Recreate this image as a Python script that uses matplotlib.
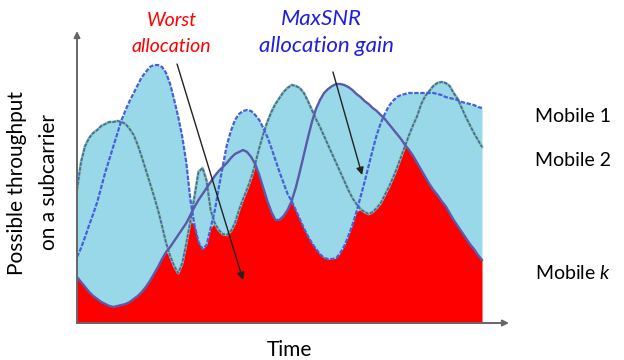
import numpy as np
import matplotlib
matplotlib.use("Agg")
import matplotlib.pyplot as plt

plt.rcParams['font.family'] = ['Lato', 'DejaVu Sans']
plt.rcParams['mathtext.fontset'] = 'custom'
plt.rcParams['mathtext.it'] = 'Lato:italic'
plt.rcParams['mathtext.rm'] = 'Lato'

# time axis (arbitrary units) and possible throughput of each mobile
time = np.arange(0, 101)

mobile_1 = [66, 75, 86, 98, 109, 121, 136, 151, 164, 177,
            190, 203, 213, 222, 230, 238, 246, 251, 256, 258,
            258, 256, 250, 239, 223, 206, 186, 160, 123, 98,
            81, 74, 78, 95, 112, 135, 157, 178, 192, 203,
            209, 212, 213, 212, 208, 203, 195, 186, 175, 163,
            151, 140, 129, 122, 113, 104, 95, 87, 80, 74,
            69, 65, 64, 64, 65, 70, 77, 87, 98, 111,
            126, 141, 157, 173, 188, 200, 209, 217, 222, 226,
            228, 229, 230, 230, 230, 230, 230, 230, 230, 229,
            228, 226, 225, 224, 223, 221, 220, 219, 218, 216,
            215]

mobile_2 = [133, 161, 177, 185, 190, 193, 197, 199, 201, 201,
            202, 201, 199, 194, 188, 178, 166, 153, 140, 127,
            113, 97, 80, 67, 57, 50, 60, 80, 102, 126,
            151, 155, 142, 113, 100, 93, 89, 88, 92, 100,
            113, 124, 134, 145, 159, 175, 189, 201, 211, 219,
            225, 231, 235, 238, 237, 235, 230, 222, 213, 204,
            196, 187, 178, 169, 160, 151, 142, 133, 125, 119,
            114, 111, 109, 111, 115, 120, 128, 136, 145, 155,
            166, 177, 188, 198, 207, 219, 227, 232, 237, 240,
            241, 240, 237, 230, 224, 215, 206, 198, 190, 183,
            176]

mobile_k = [46, 41, 36, 31, 27, 24, 21, 19, 17, 16,
            17, 18, 19, 21, 24, 27, 31, 36, 42, 49,
            56, 64, 71, 76, 82, 88, 94, 100, 108, 116,
            123, 129, 135, 141, 147, 152, 156, 160, 165, 169,
            171, 173, 171, 166, 159, 148, 135, 122, 111, 103,
            103, 107, 113, 122, 135, 151, 168, 185, 201, 214,
            223, 230, 234, 237, 239, 239, 238, 236, 233, 229,
            226, 222, 219, 215, 212, 208, 204, 199, 194, 189,
            184, 178, 173, 167, 160, 153, 146, 139, 133, 128,
            122, 117, 110, 103, 97, 91, 85, 79, 74, 68,
            63]

curves = np.array([mobile_1, mobile_2, mobile_k])
best = curves.max(axis=0)
worst = curves.min(axis=0)

W, H = 624, 360
fig = plt.figure(figsize=(W / 100, H / 100), dpi=100)
ax = fig.add_axes([77 / W, 37 / H, 432 / W, 292 / H])
ax.set_xlim(0, 432 / 4.05)
ax.set_ylim(0, 292)
ax.axis('off')

ax.fill_between(time, worst, best, color='#99d8e9', lw=0)
ax.fill_between(time, 0, worst, color='#ff0000', lw=0)

blue = '#4660d8'
ax.plot(time, mobile_2, color='#8ccf7a', lw=2.0)
ax.plot(time, mobile_2, color=blue, lw=1.3, ls=(0, (2, 0.7)))
ax.plot(time, mobile_1, color=blue, lw=1.6, ls=(0, (2, 0.7)))
ax.plot(time, mobile_k, color='#5a5aa8', lw=1.7)

# axes arrows
arr = dict(arrowstyle='-|>', color='#666666', lw=1.4, mutation_scale=9,
           shrinkA=0, shrinkB=0)
ax.annotate('', xy=(432 / 4.05, 0), xytext=(0, 0), arrowprops=arr,
            annotation_clip=False)
ax.annotate('', xy=(0, 292), xytext=(0, 0), arrowprops=arr,
            annotation_clip=False)

# pointer arrows
ptr = dict(arrowstyle='-|>', color='#222222', lw=1.0, mutation_scale=11,
           shrinkA=0, shrinkB=0)
ax.annotate('', xy=(41.0, 43), xytext=(24.7, 259), arrowprops=ptr,
            annotation_clip=False)
ax.annotate('', xy=(70.4, 148), xytext=(63.2, 251), arrowprops=ptr,
            annotation_clip=False)


def fx(px):
    return px / W


def fy(py):
    return 1 - py / H


fig.text(fx(172), fy(21), 'Worst', color='#ff0000', style='italic',
         fontsize=14, ha='center', va='center')
fig.text(fx(171), fy(47), 'allocation', color='#ff0000', style='italic',
         fontsize=14, ha='center', va='center')
fig.text(fx(321), fy(19), 'MaxSNR', color='#1f1fe0', style='italic',
         fontsize=16, ha='center', va='center')
fig.text(fx(326), fy(46), 'allocation gain', color='#1f1fe0', style='italic',
         fontsize=16, ha='center', va='center')

fig.text(fx(535), fy(116), 'Mobile 1', fontsize=14, ha='left', va='center')
fig.text(fx(535), fy(161), 'Mobile 2', fontsize=14, ha='left', va='center')
fig.text(fx(535), fy(273), 'Mobile $k$', fontsize=14, ha='left', va='center')

fig.text(fx(289), fy(350), 'Time', fontsize=15, ha='center', va='center')
fig.text(fx(17), fy(183), 'Possible throughput', fontsize=15, rotation=90,
         ha='center', va='center')
fig.text(fx(49), fy(182), 'on a subcarrier', fontsize=15, rotation=90,
         ha='center', va='center')

fig.savefig('out.png', dpi=100)
